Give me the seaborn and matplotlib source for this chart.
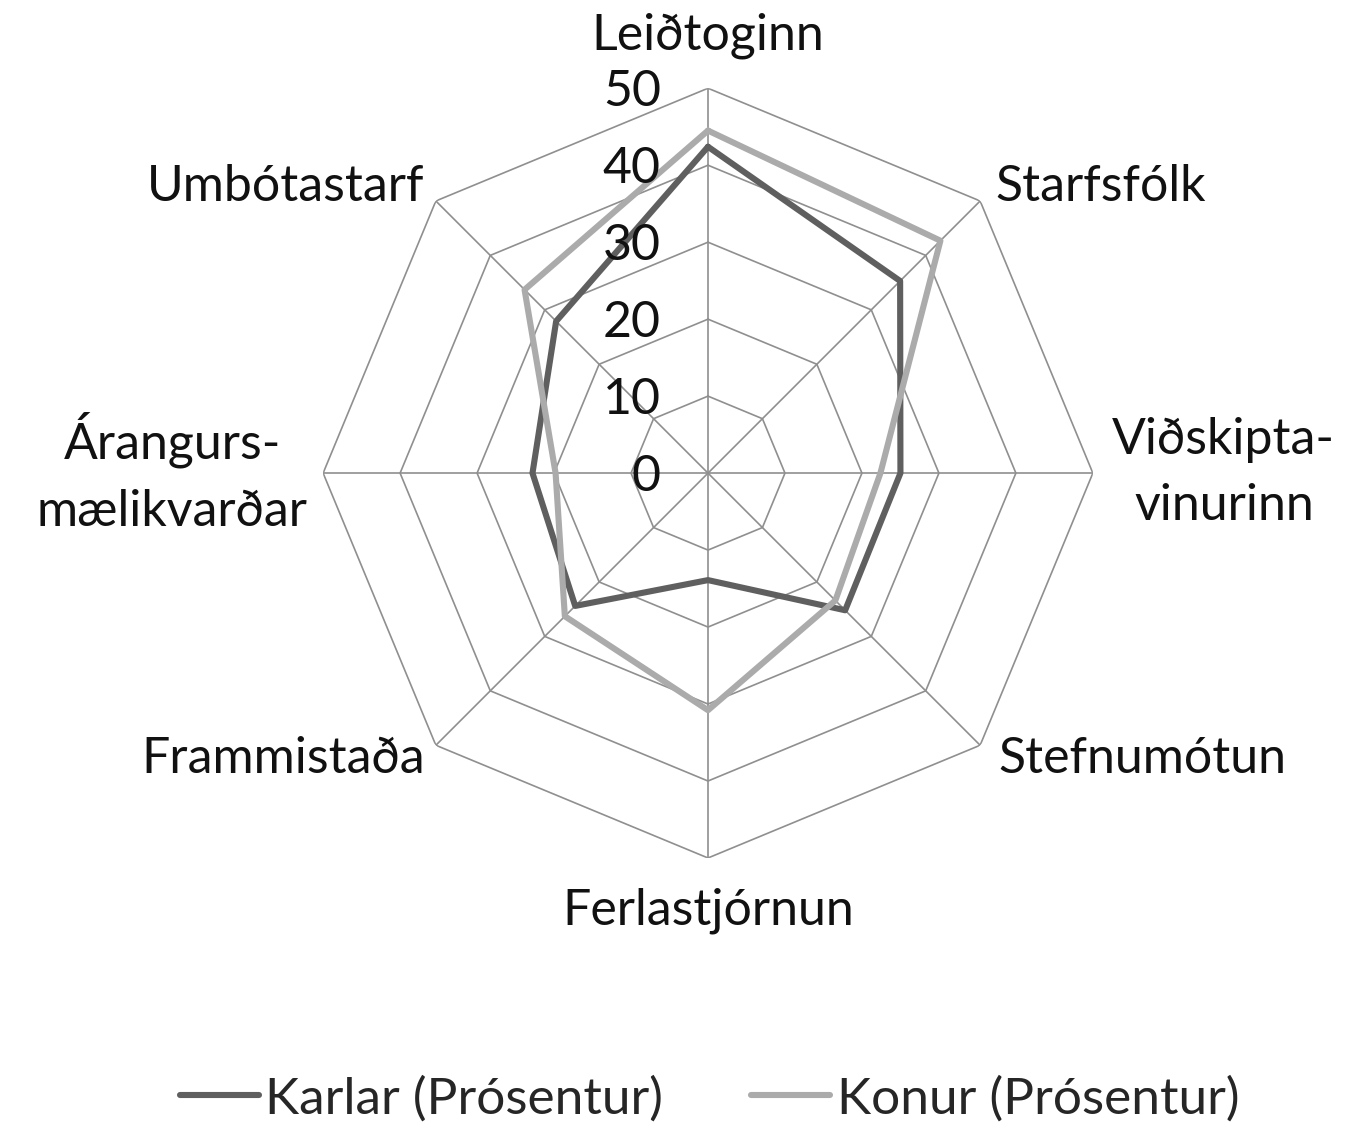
import numpy as np
import pandas as pd
import seaborn as sns
import matplotlib.pyplot as plt

# categories clockwise from top
categories = ["Leiðtoginn", "Starfsfólk", "Viðskipta-\nvinurinn", "Stefnumótun",
              "Ferlastjórnun", "Frammistaða", "Árangurs-\nmælikvarðar", "Umbótastarf"]
karlar = [42.4, 35.3, 25.0, 25.2, 13.9, 24.4, 22.8, 27.9]
konur = [44.5, 42.7, 22.4, 23.4, 30.8, 26.3, 19.8, 33.7]
series_names = ["Karlar (Prósentur)", "Konur (Prósentur)"]
rings = [0, 10, 20, 30, 40, 50]

sns.set_style("white")
plt.rcParams["font.family"] = ["Lato", "DejaVu Sans"]

n = len(categories)
theta = np.linspace(0, 2 * np.pi, n, endpoint=False)
theta_closed = np.append(theta, 2 * np.pi)

rows = []
for name, vals in zip(series_names, [karlar, konur]):
    for t, v in zip(theta_closed, vals + vals[:1]):
        rows.append({"theta": t, "value": v, "series": name})
df = pd.DataFrame(rows)

fig = plt.figure(figsize=(13.46, 11.27), dpi=100)
ax = fig.add_axes([0.24, 0.2387, 0.572, 0.683], projection="polar")
ax.set_theta_offset(np.pi / 2)
ax.set_theta_direction(-1)
ax.set_ylim(0, 50)
ax.grid(False)
ax.spines["polar"].set_visible(False)
ax.set_xticks([])
ax.set_yticks([])

# octagon grid and spokes
grid_col = "#8f8f8f"
for r in rings[1:]:
    ax.plot(theta_closed, [r] * (n + 1), color=grid_col, lw=1.2, zorder=1)
for t in theta:
    ax.plot([t, t], [0, 50], color=grid_col, lw=1.2, zorder=1)

colors = ["#5f5f5f", "#ababab"]
sns.lineplot(data=df, x="theta", y="value", hue="series", sort=False,
             estimator=None, palette=colors, linewidth=4.4,
             ax=ax, legend=False, zorder=3)
ax.set_xlabel("")
ax.set_ylabel("")

fs = 36
# radial tick labels
for r in rings:
    ax.annotate(str(r), xy=(0, r), xytext=(-34, -3), textcoords="offset points",
                ha="right", va="center", fontsize=fs, color="#111111")

# category labels, offsets in points from the outer ring vertex
offsets = [(0, 38, "center"), (11, 10, "left"), (14, 0, "left"),
           (13, -10, "left"), (0, -38, "center"), (-8, -10, "right"),
           (-11, 0, "right"), (-8, 10, "right")]
for (dx, dy, ha), t, lab in zip(offsets, theta, categories):
    ax.annotate(lab, xy=(t, 50), xytext=(dx, dy), textcoords="offset points",
                ha=ha, va="center", fontsize=fs, color="#111111",
                multialignment="center", linespacing=1.55)

handles = [plt.Line2D([], [], color=c, lw=4.4) for c in colors]
fig.legend(handles, series_names, loc="center", bbox_to_anchor=(0.527, 0.025),
           ncol=2, frameon=False, fontsize=fs + 1, handlelength=1.55,
           handletextpad=0.12, columnspacing=1.7)

fig.savefig("out.png", dpi=100)
